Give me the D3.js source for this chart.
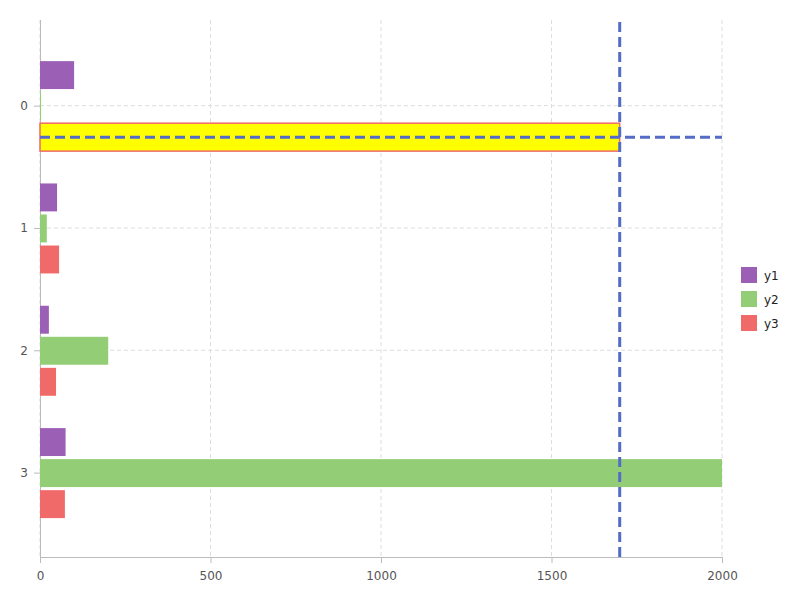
<!DOCTYPE html>
<html><head><meta charset="utf-8">
<script src="https://cdn.jsdelivr.net/npm/d3@7/dist/d3.min.js"></script>
<style>body{margin:0;background:#fff}svg{font-family:"DejaVu Sans",sans-serif}</style>
</head><body><svg id="c" width="800" height="600"></svg>
<script>
const categories = [0, 1, 2, 3];
const seriesNames = ["y1", "y2", "y3"];
const y1 = [100, 50, 26, 75];
const y2 = [3, 20, 200, 2000];
const y3 = [1700, 56, 47, 73];
const xTicks = [0, 500, 1000, 1500, 2000];
const threshold = 1700;
const colors = {y1: "#9b5fb5", y2: "#93cd76", y3: "#f06a6a"};
const values = {y1, y2, y3};

const svg = d3.select("#c");
const L = 40, R = 722, T = 20, B = 557;
const x = d3.scaleLinear().domain([0, 2000]).range([L, R]);
const y = d3.scaleLinear().domain([-0.7, 3.69]).range([T, B]);
const sub = d3.scaleBand().domain(seriesNames).range([-44.5, 45.5]).paddingInner(0.1);

// grid
const g = svg.append("g");
g.selectAll(".gx").data(xTicks).enter().append("line")
  .attr("x1", d => x(d)).attr("x2", d => x(d)).attr("y1", T).attr("y2", B)
  .attr("stroke", "#ddd").attr("stroke-dasharray", "4,3");
g.selectAll(".gy").data(categories).enter().append("line")
  .attr("x1", L).attr("x2", R).attr("y1", d => y(d)).attr("y2", d => y(d))
  .attr("stroke", "#ddd").attr("stroke-dasharray", "4,3");

// axes
const xAxis = svg.append("g").attr("transform", `translate(0,${B})`)
  .call(d3.axisBottom(x).tickValues(xTicks).tickFormat(d3.format("d")).tickSize(6).tickPadding(8).tickSizeOuter(0));
const yAxis = svg.append("g").attr("transform", `translate(${L},0)`)
  .call(d3.axisLeft(y).tickValues(categories).tickFormat(d3.format("d")).tickSize(6).tickPadding(6).tickSizeOuter(0));
[xAxis, yAxis].forEach(a => {
  a.attr("font-size", 12).attr("font-family", "DejaVu Sans");
  a.select(".domain").attr("stroke", "#bbb");
  a.selectAll(".tick line").attr("stroke", "#bbb");
  a.selectAll("text").attr("fill", "#555");
});
yAxis.select(".domain").attr("d", `M0.5,${T}V${B}`);
xAxis.select(".domain").attr("d", `M${L},0.5H${R}`);

// bars
const bars = svg.append("g");
seriesNames.forEach(s => {
  bars.selectAll(".b" + s).data(categories).enter().append("rect")
    .attr("x", x(0))
    .attr("y", d => y(d) + sub(s))
    .attr("height", sub.bandwidth())
    .attr("width", (d, i) => x(values[s][i]) - x(0))
    .attr("fill", (d, i) => (s === "y3" && values[s][i] >= threshold) ? "#ffff00" : colors[s])
    .attr("stroke", (d, i) => (s === "y3" && values[s][i] >= threshold) ? colors[s] : "none")
    .attr("stroke-width", 1.5);
});

// threshold lines
const hiY = y(0) + sub("y3") + sub.bandwidth() / 2;
svg.append("line").attr("x1", x(threshold)).attr("x2", x(threshold)).attr("y1", T + 2).attr("y2", B)
  .attr("stroke", "#556bc8").attr("stroke-width", 3).attr("stroke-dasharray", "10,5");
svg.append("line").attr("x1", L).attr("x2", R).attr("y1", hiY).attr("y2", hiY)
  .attr("stroke", "#556bc8").attr("stroke-width", 3).attr("stroke-dasharray", "10,5");

// legend
const lg = svg.append("g").attr("transform", "translate(741,267)");
seriesNames.forEach((s, i) => {
  lg.append("rect").attr("x", 0).attr("y", i * 24).attr("width", 16).attr("height", 16).attr("fill", colors[s]);
  lg.append("text").attr("x", 23).attr("y", i * 24 + 13).attr("font-size", 12).attr("fill", "#222").text(s);
});
</script></body></html>
